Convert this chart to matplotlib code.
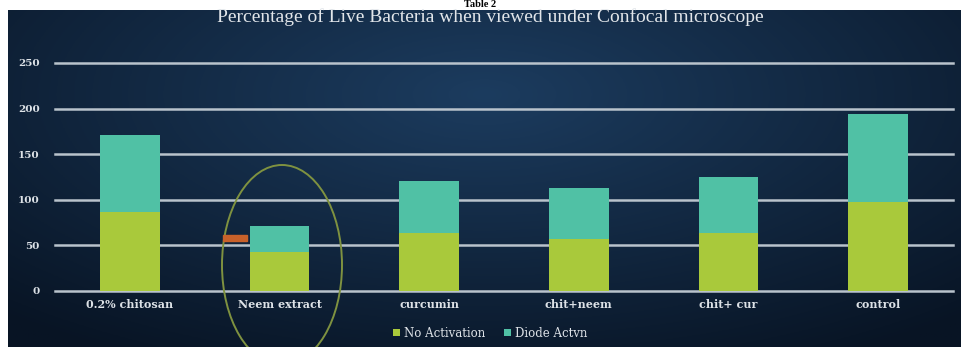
import numpy as np
import matplotlib.pyplot as plt
from matplotlib.patches import Ellipse, Rectangle

# data
categories = ['0.2% chitosan', 'Neem extract', 'curcumin', 'chit+neem', 'chit+ cur', 'control']
no_activation = [87, 43, 64, 57, 64, 98]
diode_actvn = [84, 28, 57, 56, 61, 96]
yticks = [0, 50, 100, 150, 200, 250]

green = '#a9c93b'
teal = '#50c1a5'
txt = '#dde2e7'

fig = plt.figure(figsize=(9.61, 3.47), dpi=100)
fig.patch.set_facecolor('white')

# dark navy panel with soft radial glow
bg = fig.add_axes([8/961, 0, 953/961, 1 - 10/347])
yy, xx = np.mgrid[0:1:200j, 0:1:400j]
r = np.sqrt(((xx - 0.5) / 0.75) ** 2 + ((yy - 0.25) / 0.9) ** 2)
glow = np.clip(1 - r, 0, 1)
c0 = np.array([8, 20, 36]) / 255
c1 = np.array([28, 60, 95]) / 255
img = c0 + (c1 - c0) * glow[..., None]
bg.imshow(img, aspect='auto', extent=[0, 1, 0, 1])
bg.set_axis_off()

# "Table 2" heading in the thin white strip on top
fig.text(0.5, 1.0, 'Table 2', ha='center', va='top', fontsize=7.5,
         fontweight='bold', family='Liberation Serif', color='black')

ax = fig.add_axes([55/961, 56/347, 898/961, 228/347])
ax.set_facecolor('none')
x = np.arange(len(categories))
ax.bar(x, no_activation, width=0.4, color=green, label='No Activation', zorder=3)
ax.bar(x, diode_actvn, width=0.4, bottom=no_activation, color=teal,
       label='Diode Actvn', zorder=3)

ax.set_xlim(-0.5, len(categories) - 0.5)
ax.set_ylim(0, 250)
ax.set_yticks(yticks)
for t in yticks:
    ax.axhline(t, color='#b9c3cc', lw=1.8, zorder=1, clip_on=False)
ax.set_xticks(x)
ax.set_xticklabels(categories)
ax.tick_params(length=0, colors=txt, labelsize=8)
ax.tick_params(axis='y', pad=11, labelsize=7.5)
ax.tick_params(axis='x', pad=6)
for lab in ax.get_xticklabels() + ax.get_yticklabels():
    lab.set_family('DejaVu Serif')
    lab.set_fontweight('bold')
for s in ax.spines.values():
    s.set_visible(False)

fig.text(0.51, 0.951, 'Percentage of Live Bacteria when viewed under Confocal microscope',
         ha='center', va='center', fontsize=14, family='Liberation Serif', color='#e2e6ea')

# annotations around Neem extract
fig.patches.append(Ellipse((282/961, 1 - 265/347), 120/961, 200/347,
                           transform=fig.transFigure, fill=False,
                           edgecolor='#7f9240', lw=1.4))
fig.patches.append(Rectangle((223/961, 1 - 241/347), 24/961, 6/347,
                             transform=fig.transFigure, color='#c8612a'))

leg = fig.legend(loc='center', bbox_to_anchor=(0.51, 0.04), ncol=2, frameon=False,
                 handlelength=0.6, handleheight=0.6, handletextpad=0.3,
                 columnspacing=1.6, prop={'family': 'DejaVu Serif', 'size': 8.5})
for t in leg.get_texts():
    t.set_color(txt)

fig.savefig('out.png', dpi=100)
